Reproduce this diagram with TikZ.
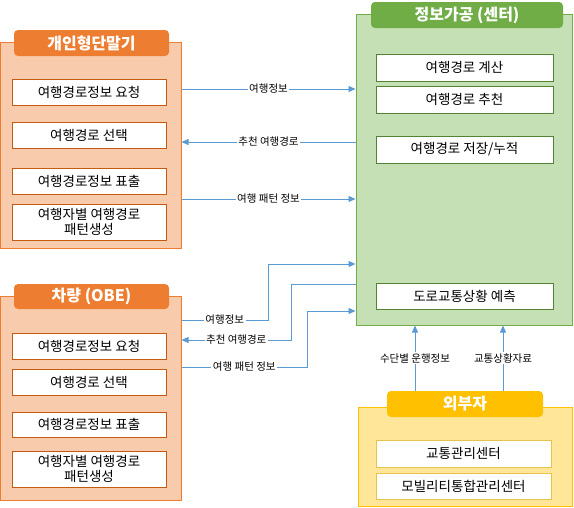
\documentclass[tikz,border=0pt]{standalone}
\usepackage{fontspec}
\setmainfont{Noto Sans CJK KR}
\usepackage{xcolor}
\usepackage{tikz}
\usetikzlibrary{arrows.meta}
\definecolor{orgdark}{HTML}{ED7D31}
\definecolor{orglight}{HTML}{F8CBAD}
\definecolor{orgline}{HTML}{C55A11}
\definecolor{grndark}{HTML}{70AD47}
\definecolor{grnlight}{HTML}{C5E0B4}
\definecolor{grnline}{HTML}{548235}
\definecolor{ylwdark}{HTML}{FFC000}
\definecolor{ylwlight}{HTML}{FFE699}
\definecolor{ylwline}{HTML}{E8C34A}
\definecolor{flowblue}{HTML}{5B9BD5}
\tikzset{
groupbox/.style={rectangle, draw=#1dark, fill=#1light, line width=1pt, inner sep=0pt},
headbox/.style={rectangle, rounded corners=4pt, fill=#1dark, inner sep=0pt, minimum height=26pt, text=white, font=\fontsize{16}{19}\selectfont\bfseries},
itembox/.style={rectangle, draw=#1line, fill=white, line width=0.6pt, inner sep=0pt, align=center, font=\fontsize{13.5}{16}\selectfont},
flowlabel/.style={fill=white, inner sep=1.5pt, font=\fontsize{10.5}{12}\selectfont},
flow/.style={draw=flowblue, line width=0.8pt, -{Triangle[length=7pt,width=6pt]}},
}

\begin{document}
\begin{tikzpicture}[x=1pt, y=-1pt]
    \useasboundingbox (0,0) rectangle (574,507);
    % personal terminal
    \node[groupbox=org, minimum width=181pt, minimum height=206pt] at (90.5,145) (term) {};
    \node[headbox=org, minimum width=155pt] at (91.5,43) (termhead) {개인형단말기};
    \node[itembox=org, minimum width=154pt, minimum height=26pt] at (89,92) (terma) {여행경로정보 요청};
    \node[itembox=org, minimum width=154pt, minimum height=26pt] at (89,135) (termb) {여행경로 선택};
    \node[itembox=org, minimum width=154pt, minimum height=26pt] at (89,181) (termc) {여행경로정보 표출};
    \node[itembox=org, minimum width=154pt, minimum height=36pt] at (89,222) (termd) {여행자별 여행경로\\[-1pt]패턴생성};
    % vehicle
    \node[groupbox=org, minimum width=181pt, minimum height=204pt] at (90.5,398) (obe) {};
    \node[headbox=org, minimum width=155pt, minimum height=25pt] at (91.5,296.5) (obehead) {차량 (OBE)};
    \node[itembox=org, minimum width=154pt, minimum height=26pt] at (89,346) (obea) {여행경로정보 요청};
    \node[itembox=org, minimum width=154pt, minimum height=26pt] at (89,382) (obeb) {여행경로 선택};
    \node[itembox=org, minimum width=154pt, minimum height=25pt] at (89,424.5) (obec) {여행경로정보 표출};
    \node[itembox=org, minimum width=154pt, minimum height=36pt] at (89,469) (obed) {여행자별 여행경로\\[-1pt]패턴생성};
    % center
    \node[groupbox=grn, minimum width=216pt, minimum height=311pt] at (464,169.5) (center) {};
    \node[headbox=grn, minimum width=192pt] at (467,15) (centerhead) {정보가공 (센터)};
    \node[itembox=grn, minimum width=177pt, minimum height=27pt] at (464.5,67.5) (centera) {여행경로 계산};
    \node[itembox=grn, minimum width=177pt, minimum height=27pt] at (464.5,99.5) (centerb) {여행경로 추천};
    \node[itembox=grn, minimum width=177pt, minimum height=27pt] at (464.5,149.5) (centerc) {여행경로 저장/누적};
    \node[itembox=grn, minimum width=177pt, minimum height=26pt] at (464.5,296) (centerd) {도로교통상황 예측};
    % external
    \node[groupbox=ylw, minimum width=214pt, minimum height=99pt] at (465,457) (ext) {};
    \node[headbox=ylw, minimum width=156pt] at (465,404) (exthead) {외부자};
    \node[itembox=ylw, minimum width=175pt, minimum height=27pt] at (463.5,453.5) (exta) {교통관리센터};
    \node[itembox=ylw, minimum width=175pt, minimum height=26pt] at (463.5,486) (extb) {모빌리티통합관리센터};
    % terminal <-> center
    \draw[flow] (term.east |- 0,89) -- node[flowlabel]{여행정보} (center.west |- 0,89);
    \draw[flow] (center.west |- 0,142) -- node[flowlabel]{추천 여행경로} (term.east |- 0,142);
    \draw[flow] (term.east |- 0,199) -- node[flowlabel]{여행 패턴 정보} (center.west |- 0,199);
    % vehicle <-> center
    \draw[flow] (obe.east |- 0,320) -- node[flowlabel]{여행정보} (268,320) -- (268,264) -- (center.west |- 0,264);
    \draw[flow] (center.west |- 0,284) -- (291,284) -- (291,340) -- node[flowlabel]{추천 여행경로} (obe.east |- 0,340);
    \draw[flow] (obe.east |- 0,367) -- node[flowlabel]{여행 패턴 정보} (307,367) -- (307,311) -- (center.west |- 0,311);
    % external -> center
    \draw[flow] (exthead.north -| 415,0) -- node[flowlabel]{수단별 운행정보} (center.south -| 415,0);
    \draw[flow] (exthead.north -| 503,0) -- node[flowlabel]{교통상황자료} (center.south -| 503,0);
\end{tikzpicture}
\end{document}
